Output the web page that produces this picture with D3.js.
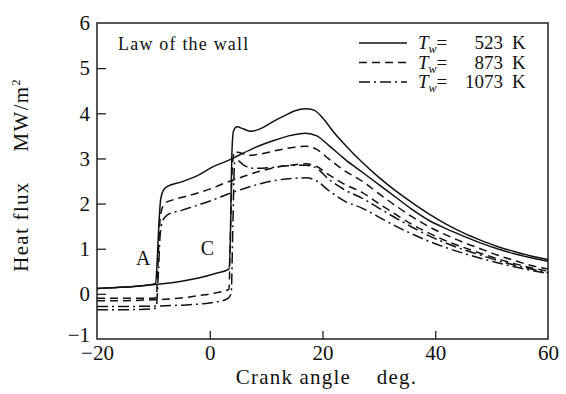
<!DOCTYPE html>
<html>
<head>
<meta charset="utf-8">
<script src="https://cdn.jsdelivr.net/npm/d3@7"></script>
<style>
  body { margin: 0; background: #fff; }
  text { font-family: "Liberation Serif", "DejaVu Serif", serif; fill: #111; }
</style>
</head>
<body>
<div id="chart"></div>
<script>
// crank angle (deg) / heat flux (MW/m2)
// case A: ignition at about -9 deg, case C: ignition at about +4 deg
const solidA523 = [[-20,0.12],[-15,0.15],[-10.5,0.2],[-9.6,0.24],[-9.3,0.8],[-9.0,1.6],[-8.7,2.1],[-8.2,2.3],[-7.5,2.38],[-5,2.48],[-2,2.63],[0.8,2.83],[3,2.94],[5,3.06],[8,3.24],[11,3.38],[14,3.5],[17,3.56],[19,3.5],[21,3.3],[24,2.98],[27,2.7],[30,2.42],[33,2.14],[36,1.86],[39,1.62],[42,1.44],[45,1.28],[48,1.13],[51,1.0],[54,0.89],[57,0.8],[60,0.72]];
const solidC523 = [[-20,0.12],[-15,0.15],[-10.5,0.2],[-8,0.23],[-5,0.28],[-2,0.35],[1,0.45],[3.4,0.55],[3.7,1.5],[3.9,3.0],[4.2,3.6],[4.8,3.7],[6,3.65],[7.3,3.6],[9,3.66],[11,3.8],[13,3.93],[15,4.05],[17,4.1],[18.5,4.07],[20,3.9],[22,3.58],[24.3,3.26],[27,2.92],[30,2.58],[33,2.28],[36,2.01],[39,1.76],[42,1.54],[45,1.35],[48,1.19],[51,1.05],[54,0.94],[57,0.84],[60,0.76]];
const dashA873 = [[-20,-0.1],[-15,-0.1],[-10,-0.1],[-9.5,-0.08],[-9.2,0.6],[-8.9,1.5],[-8.5,1.88],[-7.8,2.02],[-6,2.1],[-3,2.2],[0,2.32],[3,2.47],[6,2.6],[9,2.72],[12,2.81],[15,2.86],[17,2.88],[19,2.82],[21,2.65],[24,2.42],[27,2.25],[30,2.0],[33,1.76],[36,1.53],[39,1.34],[42,1.17],[45,1.03],[48,0.9],[51,0.78],[54,0.67],[57,0.58],[60,0.5]];
const dashC873 = [[-20,-0.15],[-15,-0.15],[-10,-0.13],[-8,-0.12],[-5,-0.09],[-2,-0.04],[1,0.02],[3.4,0.1],[3.7,1.5],[4.0,2.8],[4.4,3.15],[5.5,3.12],[7,3.07],[9,3.1],[12,3.18],[15,3.25],[17,3.27],[19,3.2],[21,3.0],[24,2.72],[27,2.5],[30,2.22],[33,1.95],[36,1.7],[39,1.48],[42,1.3],[45,1.14],[48,1.0],[51,0.86],[54,0.74],[57,0.63],[60,0.55]];
const dotA1073 = [[-20,-0.35],[-15,-0.35],[-10,-0.33],[-9.5,-0.3],[-9.1,0.5],[-8.8,1.3],[-8.4,1.6],[-7.5,1.75],[-5,1.85],[-2,1.97],[1,2.1],[3,2.2],[6,2.33],[9,2.44],[12,2.52],[15,2.56],[17,2.57],[19,2.5],[21,2.3],[24,2.05],[27,1.9],[30,1.7],[33,1.5],[36,1.32],[39,1.16],[42,1.02],[45,0.9],[48,0.79],[51,0.69],[54,0.6],[57,0.52],[60,0.45]];
const dotC1073 = [[-20,-0.28],[-15,-0.28],[-10,-0.27],[-5,-0.25],[0,-0.2],[3,-0.12],[3.8,0.0],[4.1,1.5],[4.4,2.9],[5,2.95],[6,2.85],[8,2.78],[11,2.8],[14,2.84],[17,2.85],[19,2.78],[21,2.55],[24,2.3],[27,2.12],[30,1.9],[33,1.68],[36,1.47],[39,1.28],[42,1.12],[45,0.98],[48,0.86],[51,0.74],[54,0.64],[57,0.55],[60,0.47]];

const xTicks = [-20, 0, 20, 40, 60];
const yTicks = [-1, 0, 1, 2, 3, 4, 5, 6];
const legendLabels = ['523', '873', '1073'];

const width = 566, height = 394;
const x = d3.scaleLinear().domain([-20, 60]).range([97, 548]);
const y = d3.scaleLinear().domain([-1, 6]).range([339, 23]);

const dashes = { solid: null, dash: '8,5', dashdot: '11,4,2,4' };

const series = [
  { data: solidC523, style: 'solid' },
  { data: solidA523, style: 'solid' },
  { data: dashC873, style: 'dash' },
  { data: dashA873, style: 'dash' },
  { data: dotC1073, style: 'dashdot' },
  { data: dotA1073, style: 'dashdot' }
];

const svg = d3.select('#chart').append('svg')
  .attr('width', width)
  .attr('height', height);

const fmt = d3.format('d');

// axes, ticks point inwards
const gx = svg.append('g')
  .attr('transform', `translate(0,${y(-1)})`)
  .call(d3.axisBottom(x).tickValues(xTicks).tickFormat(fmt).tickSizeInner(-8).tickSizeOuter(0).tickPadding(6));
const gy = svg.append('g')
  .attr('transform', `translate(${x(-20)},0)`)
  .call(d3.axisLeft(y).tickValues(yTicks).tickFormat(fmt).tickSizeInner(-9).tickSizeOuter(0).tickPadding(7));

[gx, gy].forEach(g => {
  g.select('.domain').remove();
  g.selectAll('line').attr('stroke', '#111').attr('stroke-width', 1.2);
  g.selectAll('text').style('font-size', '21px').attr('fill', '#111')
    .style('font-family', '"Liberation Serif", serif');
});
gx.selectAll('.tick').filter(d => d === -20 || d === 60).select('line').remove();
gy.selectAll('.tick').filter(d => d === -1 || d === 6).select('line').remove();
gy.selectAll('.tick').filter(d => d === -1).select('text').attr('dy', '0.1em');

// frame
svg.append('rect')
  .attr('x', x(-20)).attr('y', y(6))
  .attr('width', x(60) - x(-20)).attr('height', y(-1) - y(6))
  .attr('fill', 'none').attr('stroke', '#111').attr('stroke-width', 1.4);

const line = d3.line()
  .x(d => x(d[0]))
  .y(d => y(d[1]))
  .curve(d3.curveMonotoneX);

svg.append('g').selectAll('path')
  .data(series)
  .join('path')
  .attr('d', d => line(d.data))
  .attr('fill', 'none')
  .attr('stroke', '#111')
  .attr('stroke-width', 1.5)
  .attr('stroke-dasharray', d => dashes[d.style]);

// labels inside plot
svg.append('text').attr('x', 118).attr('y', 50)
  .style('font-size', '18px').style('letter-spacing', '1.2px')
  .text('Law of the wall');
svg.append('text').attr('x', x(-11.8)).attr('y', y(0.64))
  .attr('text-anchor', 'middle').style('font-size', '20px').text('A');
svg.append('text').attr('x', x(-0.4)).attr('y', y(0.86))
  .attr('text-anchor', 'middle').style('font-size', '20px').text('C');

// legend
const legendStyles = ['solid', 'dash', 'dashdot'];
const lg = svg.append('g');
legendLabels.forEach((lab, i) => {
  const ly = 43 + i * 19.5;
  lg.append('line')
    .attr('x1', 359).attr('x2', 407).attr('y1', ly).attr('y2', ly)
    .attr('stroke', '#111').attr('stroke-width', 1.5)
    .attr('stroke-dasharray', dashes[legendStyles[i]]);
  const t = lg.append('text').attr('x', 418).attr('y', ly + 6).style('font-size', '19px');
  t.append('tspan').style('font-style', 'italic').text('T');
  t.append('tspan').style('font-style', 'italic').style('font-size', '12px').attr('dy', 4).text('w');
  t.append('tspan').attr('dy', -4).text('=');
  lg.append('text').attr('x', 503).attr('y', ly + 6).attr('text-anchor', 'end')
    .style('font-size', '19px').text(lab);
  lg.append('text').attr('x', 512).attr('y', ly + 6)
    .style('font-size', '19px').text('K');
});

// axis titles
svg.append('text')
  .attr('x', (x(-20) + x(60)) / 2 + 4).attr('y', 384)
  .attr('text-anchor', 'middle')
  .style('font-size', '21px').style('letter-spacing', '1.2px')
  .attr('xml:space', 'preserve')
  .text('Crank angle    deg.');

const yt = svg.append('text')
  .attr('transform', 'translate(28,175) rotate(-90)')
  .attr('text-anchor', 'middle')
  .style('font-size', '21px').style('letter-spacing', '1.3px');
yt.append('tspan').text('Heat flux');
yt.append('tspan').attr('dx', 30).text('MW/m');
yt.append('tspan').attr('dy', -8).style('font-size', '12px').text('2');
</script>
</body>
</html>
